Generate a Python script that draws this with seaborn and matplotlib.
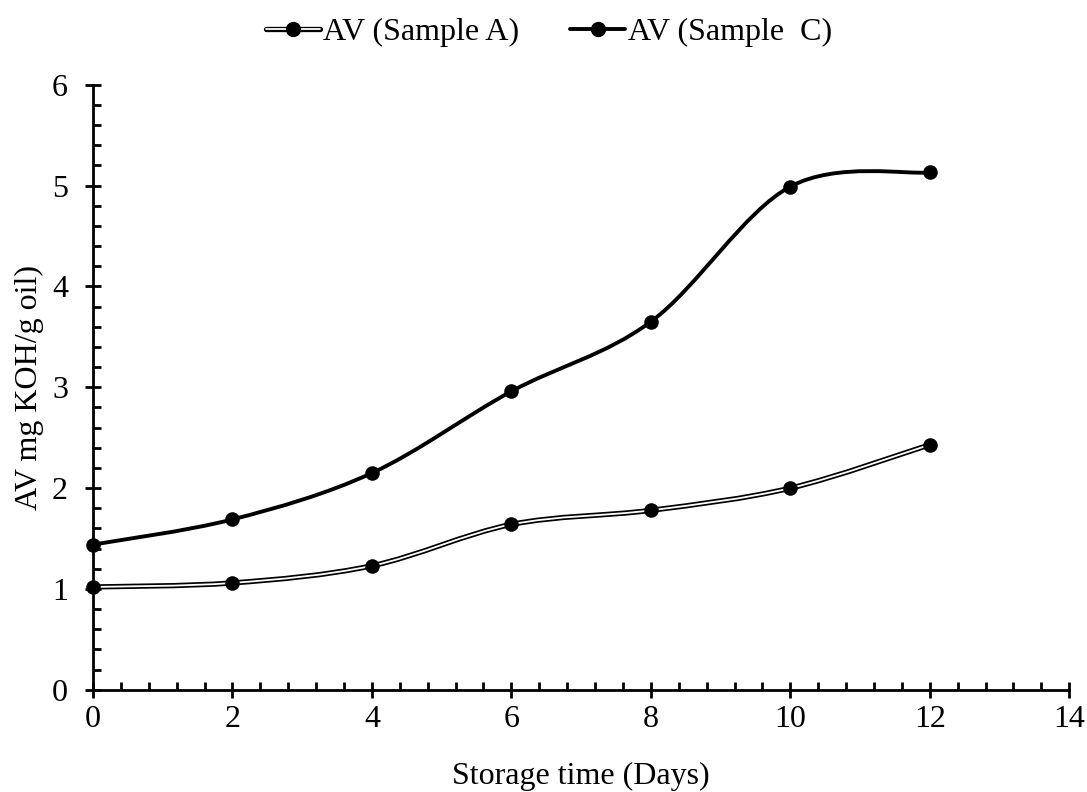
import numpy as np
import matplotlib
matplotlib.use("Agg")
import matplotlib.pyplot as plt
from matplotlib.path import Path
from matplotlib.patches import PathPatch
from matplotlib.lines import Line2D
from matplotlib.ticker import MultipleLocator
import matplotlib.patheffects as pe
import seaborn as sns
import pandas as pd

days = [0, 2, 4, 6, 8, 10, 12]
av_sample_a = [1.02, 1.06, 1.23, 1.64, 1.78, 2.00, 2.43]
av_sample_c = [1.44, 1.69, 2.15, 2.96, 3.65, 4.99, 5.13]
labels = ["AV (Sample A)", "AV (Sample  C)"]


def smooth_path(x, y):
    # excel-like smoothed line: cubic bezier segments through the points
    p = np.column_stack([x, y]).astype(float)
    n = len(p)
    verts = [p[0]]
    codes = [Path.MOVETO]
    for i in range(n - 1):
        p0 = p[i - 1] if i > 0 else p[i]
        p3 = p[i + 2] if i + 2 < n else p[i + 1]
        c1 = p[i] + (p[i + 1] - p0) / 6
        c2 = p[i + 1] - (p3 - p[i]) / 6
        verts += [c1, c2, p[i + 1]]
        codes += [Path.CURVE4] * 3
    return Path(verts, codes)


sns.set_theme(style="ticks")
plt.rcParams["font.family"] = ["Liberation Serif", "DejaVu Serif"]
plt.rcParams["text.color"] = "black"
plt.rcParams["axes.labelcolor"] = "black"

fs = 23
fig = plt.figure(figsize=(10.87, 7.92), dpi=100)
ax = fig.add_axes([0.0856, 0.129, 0.898, 0.764])

df = pd.DataFrame({"day": days * 2,
                   "av": av_sample_a + av_sample_c,
                   "sample": [labels[0]] * len(days) + [labels[1]] * len(days)})

# lines (sample A drawn as a hollow double line)
double = [pe.Stroke(linewidth=3.8, foreground="black"), pe.Normal()]
ax.add_patch(PathPatch(smooth_path(days, av_sample_a), facecolor="none",
                       edgecolor="white", lw=1.3, path_effects=double, zorder=2))
ax.add_patch(PathPatch(smooth_path(days, av_sample_c), facecolor="none",
                       edgecolor="black", lw=2.8, zorder=2))

sns.scatterplot(data=df, x="day", y="av", color="black", s=110,
                edgecolor="black", linewidth=0, legend=False, zorder=3, ax=ax, clip_on=False)

ax.set_xlim(0, 14)
ax.set_ylim(0, 6)
ax.xaxis.set_major_locator(MultipleLocator(2))
ax.xaxis.set_minor_locator(MultipleLocator(0.4))
ax.yaxis.set_major_locator(MultipleLocator(1))
ax.yaxis.set_minor_locator(MultipleLocator(0.2))
ax.tick_params(which="major", direction="inout", length=12, width=2, labelsize=fs,
               color="black", labelcolor="black")
ax.tick_params(axis="y", which="major", pad=12)
ax.tick_params(axis="x", which="major", pad=5)
ax.tick_params(which="minor", direction="in", length=6, width=2, color="black")
sns.despine(ax=ax)
for s in ("left", "bottom"):
    ax.spines[s].set_linewidth(2)
    ax.spines[s].set_color("black")

ax.set_xlabel("Storage time (Days)", fontsize=fs, labelpad=20)
ax.set_ylabel("AV mg KOH/g oil)", fontsize=fs, labelpad=6)

h_a = (Line2D([], [], color="black", lw=3.8),
       Line2D([], [], color="white", lw=1.3),
       Line2D([], [], ls="none", marker="o", markersize=10,
              markerfacecolor="black", markeredgecolor="black"))
h_c = Line2D([], [], color="black", lw=2.8, marker="o", markersize=10,
             markerfacecolor="black", markeredgecolor="black")
fig.legend([h_a, h_c], labels, loc="upper center", bbox_to_anchor=(0.505, 1.014),
           ncol=2, frameon=False, fontsize=fs, handlelength=1.7, handletextpad=0.1,
           columnspacing=1.6)

fig.savefig("out.png", dpi=100)
